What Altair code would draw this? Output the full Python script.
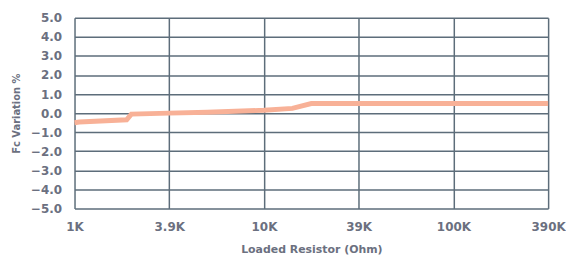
import altair as alt
import pandas as pd

# x tick categories (equally spaced on the chart)
tick_labels = ["1K", "3.9K", "10K", "39K", "100K", "390K"]
tick_pos = [0, 1, 2, 3, 4, 5]

# measured curve: position along the tick index axis and Fc variation (%)
curve_pos = [0.0, 0.05, 0.55, 0.6, 1.0, 1.4, 2.0, 2.3, 2.5, 3.0, 4.0, 5.0]
curve_val = [-0.5, -0.47, -0.35, -0.05, 0.0, 0.05, 0.15, 0.25, 0.5, 0.5, 0.5, 0.5]

df = pd.DataFrame({"pos": curve_pos, "val": curve_val})

label_map = "{" + ",".join(f"'{p}':'{l}'" for p, l in zip(tick_pos, tick_labels)) + "}"

grid_col = "#5d6d7a"
text_col = "#6b7080"
font = "DejaVu Sans"

chart = alt.Chart(df).mark_line(color="#f8b197", strokeWidth=5, strokeCap="butt").encode(
    x=alt.X("pos:Q",
            scale=alt.Scale(domain=[0, 5], nice=False, zero=False),
            axis=alt.Axis(values=tick_pos, labelExpr=f"{label_map}[datum.value]",
                          title="Loaded Resistor (Ohm)", grid=True, gridColor=grid_col,
                          gridWidth=1.5, domain=False, ticks=False, labelPadding=13,
                          labelFont=font, labelFontWeight="bold",
                          labelFontSize=12, labelColor=text_col, titleFont=font,
                          titleFontSize=11, titleFontWeight="bold", titleColor=text_col,
                          titlePadding=11, labelFlush=False)),
    y=alt.Y("val:Q",
            scale=alt.Scale(domain=[-5, 5], nice=False),
            axis=alt.Axis(values=[-5, -4, -3, -2, -1, 0, 1, 2, 3, 4, 5], format=".1f",
                          title="Fc Variation %", grid=True, gridColor=grid_col,
                          gridWidth=1.5, domain=False, ticks=False, labelPadding=13,
                          labelFont=font, labelFontWeight="bold",
                          labelFontSize=12, labelColor=text_col, titleFont=font,
                          titleFontSize=10, titleFontWeight="bold", titleColor=text_col,
                          titlePadding=9, labelFlush=False)),
).properties(
    width=477, height=192,
    autosize=alt.AutoSizeParams(type="none"),
    padding={"left": 67, "top": 9, "right": 18, "bottom": 48}
).configure_view(stroke=None)

chart.save("out.html", embed_options={"renderer": "svg", "actions": False})
